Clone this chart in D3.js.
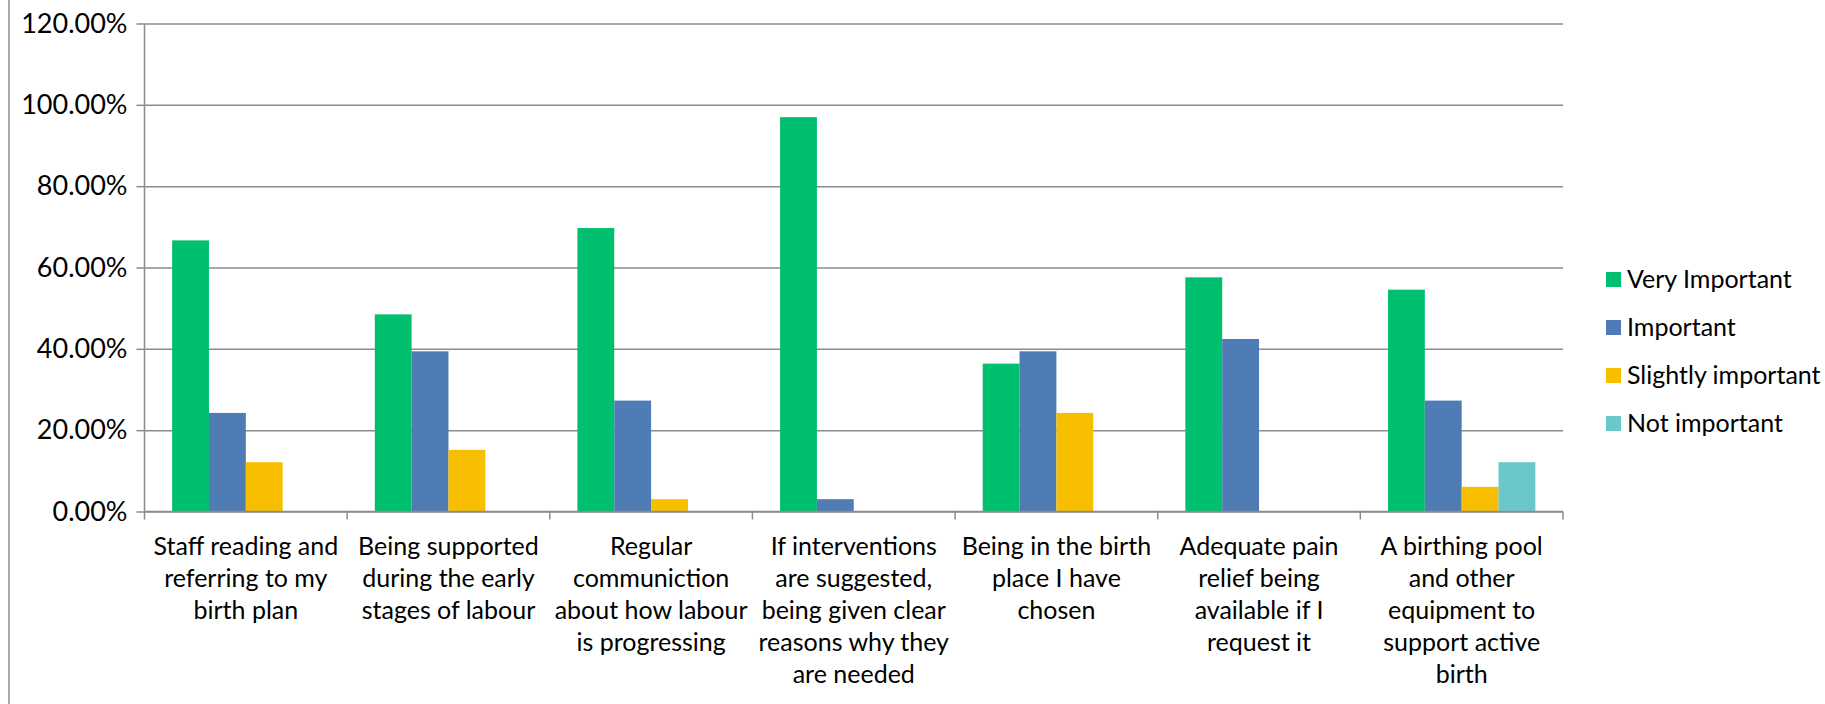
<!DOCTYPE html>
<html>
<head>
<meta charset="utf-8">
<script src="https://cdn.jsdelivr.net/npm/d3@7"></script>
<style>
  body { margin: 0; background: #fff; }
  text { font-family: Lato, "Open Sans", sans-serif; fill: #000; }
</style>
</head>
<body>
<div id="chart"></div>
<script>
// categories, wrapped the same way as the original labels
const categories = [
  ["Staff reading and", "referring to my", "birth plan"],
  ["Being supported", "during the early", "stages of labour"],
  ["Regular", "communiction", "about how labour", "is progressing"],
  ["If interventions", "are suggested,", "being given clear", "reasons why they", "are needed"],
  ["Being in the birth", "place I have", "chosen"],
  ["Adequate pain", "relief being", "available if I", "request it"],
  ["A birthing pool", "and other", "equipment to", "support active", "birth"]
];

const seriesNames = ["Very Important", "Important", "Slightly important", "Not important"];
const veryImportant     = [66.67, 48.48, 69.70, 96.97, 36.36, 57.58, 54.55];
const important         = [24.24, 39.39, 27.27, 3.03, 39.39, 42.42, 27.27];
const slightlyImportant = [12.12, 15.15, 3.03, 0, 24.24, 0, 6.06];
const notImportant      = [0, 0, 0, 0, 0, 0, 12.12];
const yTicks = [0, 20, 40, 60, 80, 100, 120];

const colors = ["#00bf6f", "#4f7cb5", "#f8bf00", "#6cc7cb"];
const allSeries = [veryImportant, important, slightlyImportant, notImportant];

var margin = {top: 23.5, left: 144.5},
    width = 1563 - margin.left,
    height = 511.5 - margin.top;

var svg = d3.select("#chart").append("svg")
    .attr("width", 1825)
    .attr("height", 704);

// left border of the chart area
svg.append("line")
    .attr("x1", 9).attr("x2", 9)
    .attr("y1", 0).attr("y2", 704)
    .attr("stroke", "#8a8a8a").attr("stroke-width", 1.5);

var g = svg.append("g")
    .attr("transform", "translate(" + margin.left + "," + margin.top + ")");

var catIdx = categories.map((c, i) => i);
var x0 = d3.scaleBand().domain(catIdx).range([0, width]).padding(0);
var x1 = d3.scaleBand().domain(seriesNames).range([0, x0.bandwidth()])
    .paddingInner(0).paddingOuter(0.75);
var y = d3.scaleLinear().domain([0, 120]).range([height, 0]);

// gridlines
g.append("g")
    .attr("class", "grid")
    .call(d3.axisLeft(y).tickValues(yTicks).tickSize(-width).tickFormat(""))
    .call(s => s.select(".domain").remove())
    .selectAll("line")
    .attr("stroke", "#8c8c8c").attr("stroke-width", 1.5);

// y axis
var yAxis = g.append("g")
    .call(d3.axisLeft(y).tickValues(yTicks).tickSize(8).tickPadding(9)
      .tickFormat(d => d.toFixed(2) + "%"));
yAxis.select(".domain").attr("stroke", "#8c8c8c").attr("stroke-width", 1.5)
    .attr("d", "M0," + height + "V0");
yAxis.selectAll("line").attr("stroke", "#8c8c8c").attr("stroke-width", 1.5);
yAxis.selectAll("text").style("font-size", "27px").style("font-family", "Lato");

// bars
var bars = [];
allSeries.forEach((vals, s) => {
  vals.forEach((v, i) => bars.push({cat: i, name: seriesNames[s], value: v, color: colors[s]}));
});

g.append("g").selectAll("rect")
  .data(bars.filter(d => d.value > 0))
  .join("rect")
    .attr("x", d => x0(d.cat) + x1(d.name))
    .attr("y", d => y(d.value))
    .attr("width", x1.bandwidth())
    .attr("height", d => height - y(d.value))
    .attr("fill", d => d.color);

// x axis with ticks on category boundaries
var xAxis = g.append("g").attr("transform", "translate(0," + height + ")");
xAxis.append("line")
    .attr("x1", 0).attr("x2", width)
    .attr("stroke", "#8c8c8c").attr("stroke-width", 1.5);
xAxis.selectAll(".tick")
  .data(catIdx.concat([categories.length]))
  .join("line")
    .attr("x1", d => d < categories.length ? x0(d) : width)
    .attr("x2", d => d < categories.length ? x0(d) : width)
    .attr("y1", 0).attr("y2", 8)
    .attr("stroke", "#8c8c8c").attr("stroke-width", 1.5);

xAxis.selectAll(".lbl")
  .data(categories)
  .join("text")
    .attr("text-anchor", "middle")
    .style("font-size", "25px")
    .attr("transform", (d, i) => "translate(" + (x0(i) + x0.bandwidth() / 2) + ",43)")
  .selectAll("tspan")
  .data(d => d)
  .join("tspan")
    .attr("x", 0)
    .attr("y", (d, i) => i * 32.2)
    .text(d => d);

// legend
var legend = svg.append("g").attr("transform", "translate(1606,272)");
var item = legend.selectAll("g")
  .data(seriesNames)
  .join("g")
    .attr("transform", (d, i) => "translate(0," + i * 48 + ")");
item.append("rect")
    .attr("width", 15).attr("height", 15)
    .attr("fill", (d, i) => colors[i]);
item.append("text")
    .attr("x", 21).attr("y", 7.5)
    .attr("dy", "0.35em")
    .style("font-size", "25px")
    .text(d => d);
</script>
</body>
</html>
